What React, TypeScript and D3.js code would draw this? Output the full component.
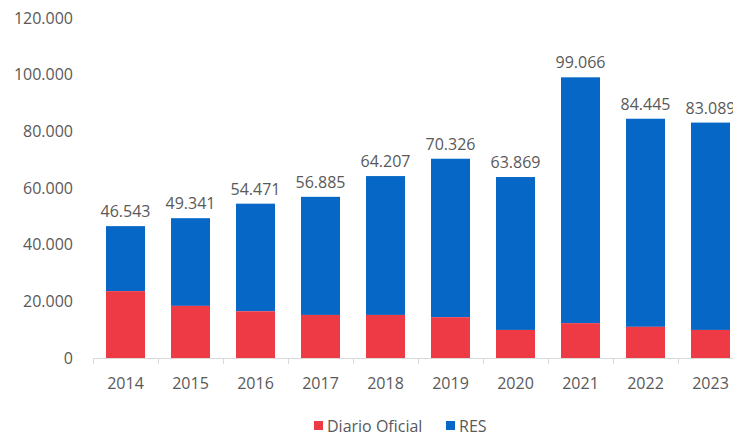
import { useEffect, useRef } from 'react'
import * as d3 from 'd3'

const years = ['2014', '2015', '2016', '2017', '2018', '2019', '2020', '2021', '2022', '2023']
const totals = [46543, 49341, 54471, 56885, 64207, 70326, 63869, 99066, 84445, 83089]
const diarioOficial = [23600, 18400, 16500, 15200, 15200, 14400, 9900, 12300, 11000, 9900]
const yTicks = [0, 20000, 40000, 60000, 80000, 100000, 120000]

const RED = '#EE3A45'
const BLUE = '#0667C6'
const TEXT = '#595959'
const FONT = '"Open Sans", "Liberation Sans", sans-serif'

const fmt = (v: number) => d3.format(',')(v).replace(/,/g, '.')

export default function App() {
  const svgRef = useRef<SVGSVGElement | null>(null)

  useEffect(() => {
    document.body.style.margin = '0'
    const svgEl = svgRef.current
    if (!svgEl) return
    const svg = d3.select(svgEl)
    svg.selectAll('*').remove()

    const x = d3.scaleBand().domain(years).range([93, 743]).paddingInner(0.4).paddingOuter(0.2)
    const y = d3.scaleLinear().domain([0, 120000]).range([358, 18])

    // y tick labels
    svg
      .append('g')
      .selectAll('text')
      .data(yTicks)
      .enter()
      .append('text')
      .attr('x', 73)
      .attr('y', (d) => y(d))
      .attr('dy', '0.35em')
      .attr('text-anchor', 'end')
      .attr('fill', TEXT)
      .attr('font-family', FONT)
      .attr('font-size', 16)
      .text((d) => fmt(d))

    const rows = years.map((yr, i) => ({
      year: yr,
      red: diarioOficial[i],
      total: totals[i],
    }))

    const g = svg.append('g')
    g.selectAll('rect.res')
      .data(rows)
      .enter()
      .append('rect')
      .attr('x', (d) => x(d.year) ?? 0)
      .attr('width', x.bandwidth())
      .attr('y', (d) => y(d.total))
      .attr('height', (d) => y(d.red) - y(d.total))
      .attr('fill', BLUE)

    g.selectAll('rect.do')
      .data(rows)
      .enter()
      .append('rect')
      .attr('x', (d) => x(d.year) ?? 0)
      .attr('width', x.bandwidth())
      .attr('y', (d) => y(d.red))
      .attr('height', (d) => y(0) - y(d.red))
      .attr('fill', RED)

    // totals labels
    g.selectAll('text.total')
      .data(rows)
      .enter()
      .append('text')
      .attr('x', (d) => (x(d.year) ?? 0) + x.bandwidth() / 2)
      .attr('y', (d) => y(d.total) - 9)
      .attr('text-anchor', 'middle')
      .attr('fill', TEXT)
      .attr('font-family', FONT)
      .attr('font-size', 16)
      .text((d) => fmt(d.total))

    // x axis
    svg
      .append('line')
      .attr('x1', 93)
      .attr('x2', 743)
      .attr('y1', y(0) + 0.5)
      .attr('y2', y(0) + 0.5)
      .attr('stroke', '#d9d9d9')
      .attr('stroke-width', 1)

    const step = x.step()
    svg
      .append('g')
      .selectAll('line')
      .data(d3.range(years.length + 1))
      .enter()
      .append('line')
      .attr('x1', (i) => 93 + i * step + 0.5)
      .attr('x2', (i) => 93 + i * step + 0.5)
      .attr('y1', y(0))
      .attr('y2', y(0) + 6)
      .attr('stroke', '#d9d9d9')

    svg
      .append('g')
      .selectAll('text')
      .data(years)
      .enter()
      .append('text')
      .attr('x', (d) => (x(d) ?? 0) + x.bandwidth() / 2)
      .attr('y', 389)
      .attr('text-anchor', 'middle')
      .attr('fill', TEXT)
      .attr('font-family', FONT)
      .attr('font-size', 16)
      .text((d) => d)

    // legend
    const legend = [
      { label: 'Diario Oficial', color: RED, x: 314 },
      { label: 'RES', color: BLUE, x: 446 },
    ]
    const lg = svg.append('g')
    legend.forEach((l) => {
      lg.append('rect')
        .attr('x', l.x)
        .attr('y', 421)
        .attr('width', 9)
        .attr('height', 9)
        .attr('fill', l.color)
      lg.append('text')
        .attr('x', l.x + 13)
        .attr('y', 426)
        .attr('dy', '0.35em')
        .attr('fill', TEXT)
        .attr('font-family', FONT)
        .attr('font-size', 16)
        .text(l.label)
    })
  }, [])

  return <svg ref={svgRef} width={733} height={436} style={{ display: 'block', background: '#fff' }} />
}
